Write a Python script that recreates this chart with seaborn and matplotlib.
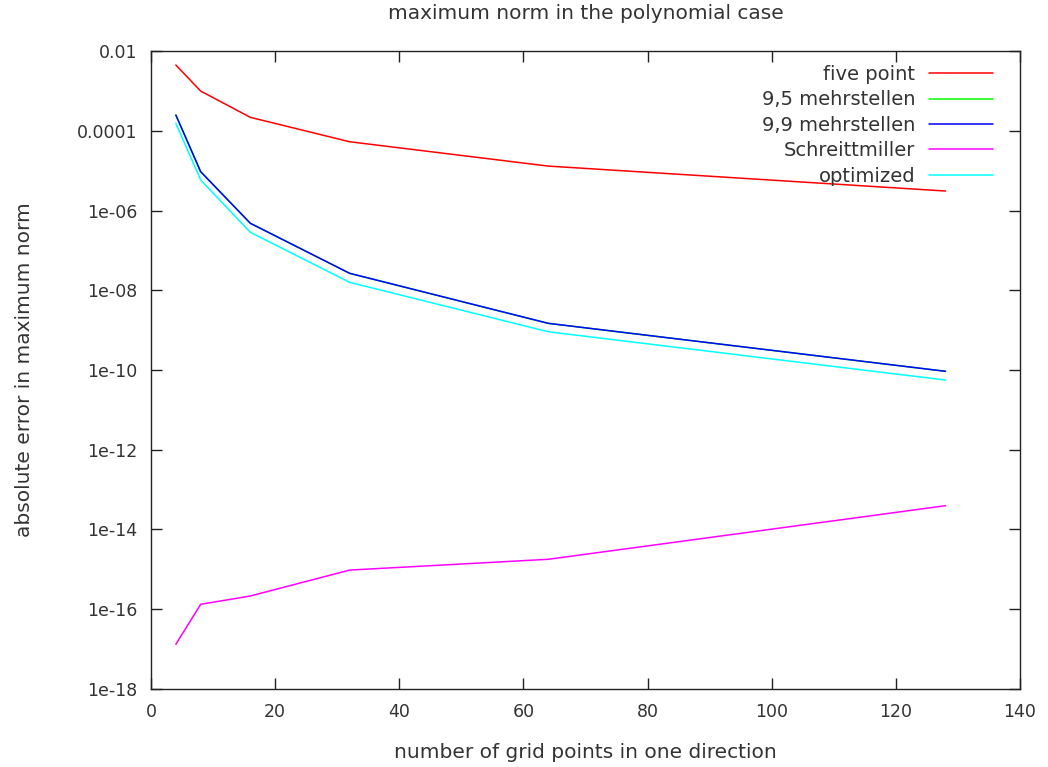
import numpy as np
import pandas as pd
import seaborn as sns
import matplotlib.pyplot as plt
from matplotlib.ticker import FixedLocator, NullFormatter

sns.set_style('ticks')
plt.rcParams['font.family'] = ['DejaVu Sans']

# grid points in one direction
grid_points = [4, 8, 16, 32, 64, 128]

five_point = [4.46e-3, 9.9e-4, 2.17e-4, 5.3e-5, 1.3e-5, 3.08e-6]
mehr_95 = [2.48e-4, 9.4e-6, 4.78e-7, 2.66e-8, 1.48e-9, 9.27e-11]
mehr_99 = [2.48e-4, 9.4e-6, 4.78e-7, 2.66e-8, 1.48e-9, 9.27e-11]
schreittmiller = [1.32e-17, 1.33e-16, 2.15e-16, 9.6e-16, 1.79e-15, 3.95e-14]
optimized = [1.54e-4, 5.82e-6, 2.84e-7, 1.58e-8, 9.1e-10, 5.6e-11]

series_names = ['five point', '9,5 mehrstellen', '9,9 mehrstellen',
                'Schreittmiller', 'optimized']
series_colors = ['#ff0000', '#00ff00', '#0000ff', '#ff00ff', '#00ffff']

y_ticks = [1e-2, 1e-4, 1e-6, 1e-8, 1e-10, 1e-12, 1e-14, 1e-16, 1e-18]
y_tick_labels = ['0.01', '0.0001', '1e-06', '1e-08', '1e-10', '1e-12',
                 '1e-14', '1e-16', '1e-18']
x_ticks = [0, 20, 40, 60, 80, 100, 120, 140]

frames = []
for name, vals in zip(series_names, [five_point, mehr_95, mehr_99,
                                     schreittmiller, optimized]):
    frames.append(pd.DataFrame({'n': grid_points, 'err': vals, 'method': name}))
df = pd.concat(frames, ignore_index=True)

fig = plt.figure(figsize=(10.48, 7.67), dpi=100)
ax = fig.add_axes([0.1441, 0.1017, 0.8292, 0.8318])

sns.lineplot(data=df, x='n', y='err', hue='method', hue_order=series_names,
             palette=dict(zip(series_names, series_colors)), linewidth=1.1,
             ax=ax, sort=False, estimator=None)

ax.set_yscale('log')
ax.set_xlim(0, 140)
ax.set_ylim(1e-18, 1e-2)
ax.xaxis.set_major_locator(FixedLocator(x_ticks))
ax.set_xticklabels([str(t) for t in x_ticks])
ax.yaxis.set_major_locator(FixedLocator(y_ticks))
ax.set_yticklabels(y_tick_labels)
ax.yaxis.set_minor_locator(FixedLocator([10.0 ** -k for k in range(3, 18, 2)]))
ax.yaxis.set_minor_formatter(NullFormatter())
ax.minorticks_on()
ax.xaxis.set_minor_locator(FixedLocator([]))

ax.tick_params(which='major', direction='in', length=8, width=1,
               top=True, right=True, labelsize=12.5, colors='#222222',
               labelcolor='#333333', pad=10)
ax.tick_params(which='minor', direction='in', length=4, width=1,
               top=True, right=True, colors='#222222')
for sp in ax.spines.values():
    sp.set_visible(True)
    sp.set_linewidth(1)
    sp.set_color('#222222')

ax.set_xlabel('number of grid points in one direction', fontsize=14.5,
              color='#333333', labelpad=16)
ax.set_ylabel('absolute error in maximum norm', fontsize=14.5,
              color='#333333', labelpad=31)
ax.set_title('maximum norm in the polynomial case', fontsize=14.5,
             color='#333333', pad=23)

ax.legend(loc='upper right', bbox_to_anchor=(0.969, 0.978), frameon=False,
          markerfirst=False, fontsize=14, handlelength=3.3, handletextpad=0.7,
          labelspacing=0.33, borderpad=0, borderaxespad=0, title=None,
          labelcolor='#333333')

fig.savefig('out.png', dpi=100)
